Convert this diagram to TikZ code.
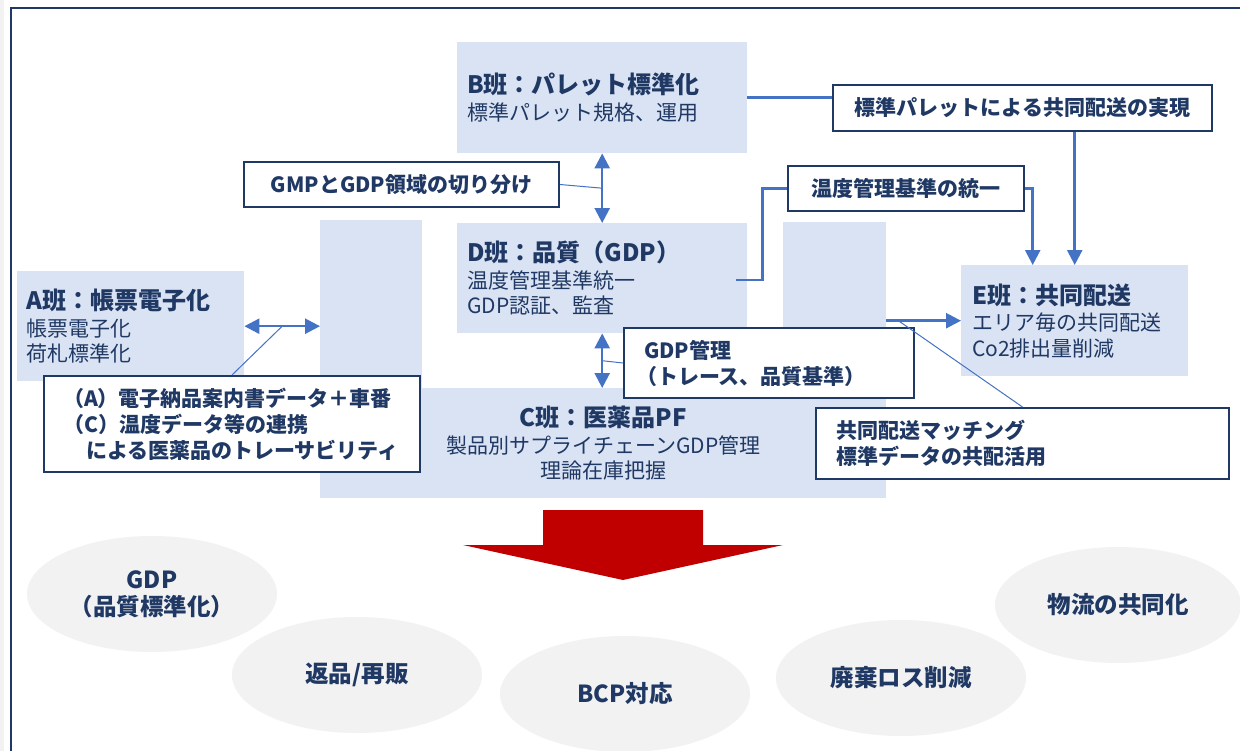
\documentclass[tikz,border=0pt]{standalone}
\usepackage{fontspec}
\setmainfont{Noto Sans CJK JP}
\usetikzlibrary{arrows.meta,shapes.geometric,calc}
\definecolor{navy}{HTML}{1F3864}
\definecolor{lblue}{HTML}{DAE3F3}
\definecolor{connc}{HTML}{4472C4}
\definecolor{egrey}{HTML}{F2F2F2}
\definecolor{redar}{HTML}{C00000}
\newcommand\TeamHead{\fontsize{24bp}{28bp}\selectfont\bfseries}
\begin{document}
\begin{tikzpicture}[x=1bp,y=-1bp,
  team/.style={fill=lblue, draw=none, inner xsep=10bp, inner ysep=0pt, align=left, text=navy,
    font=\fontsize{21bp}{25.5bp}\selectfont, anchor=north west},
  pillar/.style={fill=lblue, draw=none, inner sep=0pt, anchor=north west},
  call/.style={draw=navy, line width=2bp, fill=white, text=navy, inner ysep=0pt,
    font=\bfseries\fontsize{21bp}{26bp}\selectfont, anchor=north west},
  ell/.style={ellipse, fill=egrey, draw=none, text=navy, inner sep=0pt, align=center,
    font=\bfseries\fontsize{23.5bp}{27bp}\selectfont, minimum width=250bp, minimum height=116bp},
  conn/.style={draw=connc, line width=2.5bp},
  dbl/.style={conn, {Triangle[width=15bp,length=15bp]}-{Triangle[width=15bp,length=15bp]}},
  one/.style={conn, -{Triangle[width=15bp,length=15bp]}},
  thin/.style={draw=connc, line width=1bp}
]
\useasboundingbox (0,0) rectangle (1240,751);
\fill[white] (0,0) rectangle (1240,751);
\fill[egrey] (0,0) rectangle (4,751);
\draw[navy, line width=2bp] (11,751) -- (11,8.5) -- (1240,8.5);

% team boxes
\node[pillar, minimum width=102bp, minimum height=278bp] (PL) at (320,220) {};
\node[pillar, minimum width=103bp, minimum height=276bp] (PR) at (783,222) {};
\node[team, align=center, inner xsep=0pt, text width=566bp, minimum height=110bp] (C) at (320,388)
  {{\TeamHead C班：医薬品PF}\\[1bp] 製品別サプライチェーンGDP管理\\ 理論在庫把握};
\node[team, text width=270bp, minimum height=111bp] (B) at (457,42)
  {{\TeamHead B班：パレット標準化}\\[2bp] 標準パレット規格、運用};
\node[team, text width=270bp, minimum height=110bp] (D) at (457,223)
  {{\TeamHead D班：品質（GDP）}\\[1bp] 温度管理基準統一\\ GDP認証、監査};
\node[team, inner xsep=9bp, text width=209bp, minimum height=110bp] (A) at (17,271)
  {{\TeamHead A班：帳票電子化}\\[1bp] 帳票電子化\\ 荷札標準化};
\node[team, inner xsep=11bp, text width=205bp, minimum height=111bp] (E) at (961,265)
  {{\TeamHead E班：共同配送}\\[1bp] エリア毎の共同配送\\ Co2排出量削減};

% callout boxes
\node[call, align=center, minimum width=315bp, minimum height=45bp] (G) at (243,161) {GMPとGDP領域の切り分け};
\node[call, align=center, minimum width=379bp, minimum height=46bp] (P) at (832,84) {標準パレットによる共同配送の実現};
\node[call, align=center, minimum width=236bp, minimum height=45bp] (T) at (787,165) {温度管理基準の統一};
\node[call, align=left, inner xsep=19bp, text width=338bp, minimum height=96bp] (AC) at (43,375)
  {（A）電子納品案内書データ＋車番\\（C）温度データ等の連携\\ \hspace*{23bp}による医薬品のトレーサビリティ};
\node[call, align=left, inner xsep=20bp, text width=250bp, minimum height=70bp] (GM) at (623,327)
  {GDP管理\\ \hspace*{-8bp}（トレース、品質基準）};
\node[call, align=left, inner xsep=20bp, text width=373bp, minimum height=71bp] (M) at (815,407)
  {共同配送マッチング\\ 標準データの共配活用};

% connectors
\draw[dbl] (B.south) -- (D.north);
\draw[dbl] (D.south) -- (D.south |- C.north);
\draw[dbl] (A.east) -- (A.east -| PL.west);
\draw[one] (PR.east |- E.west) -- (E.west);
\draw[conn] (B.east) -- (B.east -| P.west);
\draw[one] (E.north |- P.south) -- (E.north);
\draw[conn] ([xshift=-11bp,yshift=-2bp]D.east) -- ++(26,0) |- (T.west);
\draw[one] (T.east) -| ([xshift=-42bp]E.north);

\coordinate (bd) at ($(B.south)!0.5!(D.north)$);
\coordinate (ac) at ($(A.east)!0.5!(A.east -| PL.west)$);
\coordinate (dc) at ($(D.south)!0.5!(D.south |- C.north)$);
\coordinate (pe) at ($(PR.east |- E.west)+(12,0)$);
\draw[thin] (G.east) -- (bd);
\draw[thin] (AC.north) -- (ac);
\draw[thin] (GM.west) -- (dc);
\draw[thin] (pe) -- (M.north);

% big red arrow
\fill[redar] (543,510) -- (703,510) -- (703,545) -- (783,545) -- (623,580) -- (463,545) -- (543,545) -- cycle;

% ellipses
\node[ell] (E1) at (152,594) {GDP\\（品質標準化）};
\node[ell] (E2) at (357,675) {返品/再販};
\node[ell] (E3) at (625,694) {BCP対応};
\node[ell] (E4) at (901,678) {廃棄ロス削減};
\node[ell, minimum width=246bp] (E5) at (1118,605) {物流の共同化};
\end{tikzpicture}
\end{document}
